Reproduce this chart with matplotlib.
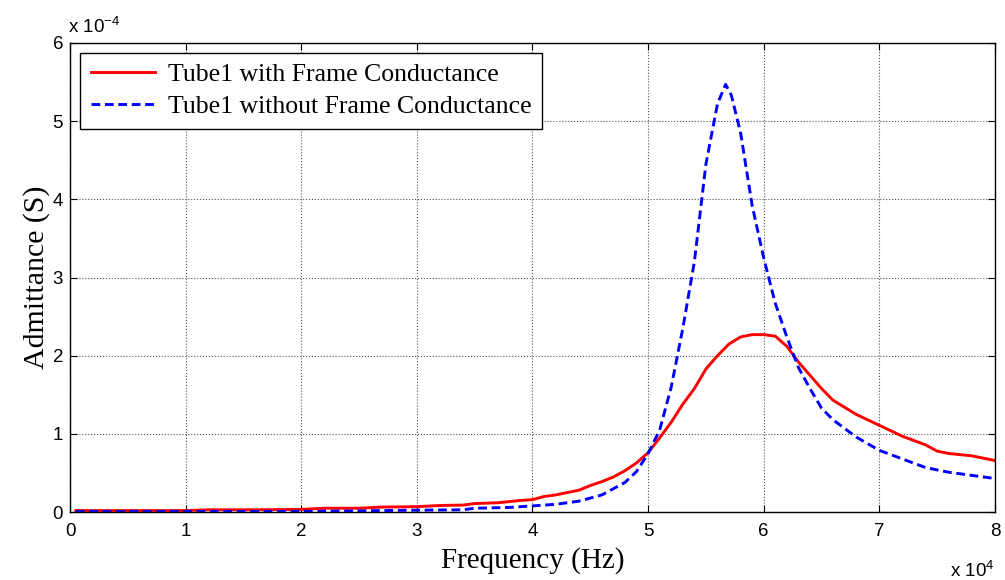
import numpy as np
import matplotlib
matplotlib.use('Agg')
import matplotlib.pyplot as plt
from matplotlib.ticker import FuncFormatter

plt.rcParams['mathtext.fontset'] = 'custom'
plt.rcParams['mathtext.rm'] = 'Liberation Sans'
plt.rcParams['mathtext.it'] = 'Liberation Sans'

# frequency points (Hz) and admittance (S) of the tube
freq_red = [500, 10000, 12000, 16000, 20000, 22000, 25000, 27000, 30000, 32000,
            34000, 35000, 37000, 39000, 40000, 41000, 42000, 44000, 45000, 46000,
            47000, 48000, 49000, 50000, 51000, 52000, 53000, 54000, 55000, 56000,
            57000, 58000, 59000, 60000, 61000, 62000, 63000, 64000, 65000, 66000,
            68000, 70000, 72000, 74000, 75000, 76000, 78000, 80000]
adm_red = [0.02, 0.02, 0.03, 0.03, 0.035, 0.05, 0.05, 0.065, 0.07, 0.085,
           0.09, 0.11, 0.12, 0.15, 0.16, 0.20, 0.22, 0.28, 0.34, 0.39,
           0.45, 0.53, 0.63, 0.76, 0.95, 1.15, 1.38, 1.58, 1.83, 2.00,
           2.15, 2.24, 2.27, 2.27, 2.25, 2.12, 1.92, 1.75, 1.58, 1.43,
           1.25, 1.11, 0.97, 0.86, 0.78, 0.75, 0.72, 0.66]

freq_blue = [500, 10000, 20000, 24000, 27000, 30000, 34000, 35000, 38000, 40000,
             42000, 44000, 46000, 48000, 49000, 50000, 51000, 52000, 53000, 54000,
             55000, 56000, 56700, 57200, 58000, 59000, 60000, 61000, 62000, 63000,
             64000, 65000, 66000, 68000, 70000, 72000, 74000, 75000, 76000, 78000,
             80000]
adm_blue = [0.01, 0.01, 0.01, 0.015, 0.02, 0.025, 0.03, 0.05, 0.06, 0.08,
            0.10, 0.14, 0.22, 0.38, 0.52, 0.75, 1.05, 1.60, 2.35, 3.20,
            4.45, 5.22, 5.47, 5.33, 4.85, 3.92, 3.25, 2.67, 2.24, 1.85,
            1.58, 1.33, 1.18, 0.96, 0.79, 0.68, 0.57, 0.54, 0.51, 0.47,
            0.43]

adm_red = np.array(adm_red) * 1e-4
adm_blue = np.array(adm_blue) * 1e-4

fig = plt.figure(figsize=(10.05, 5.8), dpi=100)
ax = fig.add_axes([0.0697, 0.117, 0.9203, 0.809])

ax.plot(freq_red, adm_red, color='#ff0000', lw=2.1, label='Tube1 with Frame Conductance')
ax.plot(freq_blue, adm_blue, color='#0000ff', lw=2.1, ls='--', dashes=(3.0, 1.6),
        label='Tube1 without Frame Conductance')

ax.set_xlim(0, 80000)
ax.set_ylim(0, 6e-4)
ax.set_xticks(np.arange(0, 80001, 10000))
ax.set_yticks(np.arange(0, 6.01e-4, 1e-4))
ax.xaxis.set_major_formatter(FuncFormatter(lambda v, p: '%d' % round(v / 1e4)))
ax.yaxis.set_major_formatter(FuncFormatter(lambda v, p: '%d' % round(v / 1e-4)))

ax.grid(True, color='#555555', ls=':', lw=0.8)
ax.tick_params(direction='in', length=5, top=True, right=True, labelsize=13.5, width=0.8)
ax.tick_params(axis='x', pad=8)
ax.tick_params(axis='y', pad=5)
for lab in ax.get_xticklabels() + ax.get_yticklabels():
    lab.set_family('Liberation Sans')
for s in ax.spines.values():
    s.set_linewidth(1.0)

ax.set_xlabel('Frequency (Hz)', family='Liberation Serif', fontsize=21, labelpad=5)
ax.set_ylabel('Admittance (S)', family='Liberation Serif', fontsize=21.5, labelpad=2)

# MATLAB-style exponent labels
ax.text(-0.002, 1.021, r'x 10$^{-4}$', transform=ax.transAxes, family='Liberation Sans',
        fontsize=13.5, ha='left', va='baseline')
ax.text(1.0, -0.138, r'x 10$^{4}$', transform=ax.transAxes, family='Liberation Sans',
        fontsize=13.5, ha='right', va='baseline')

leg = ax.legend(loc='upper left', prop={'family': 'Liberation Serif', 'size': 18.5},
                fancybox=False, framealpha=1, edgecolor='black', borderpad=0.4,
                handlelength=2.5, borderaxespad=0.4, labelspacing=0.35, handletextpad=0.5)
leg.get_frame().set_linewidth(1.0)

fig.savefig('out.png', dpi=100)
